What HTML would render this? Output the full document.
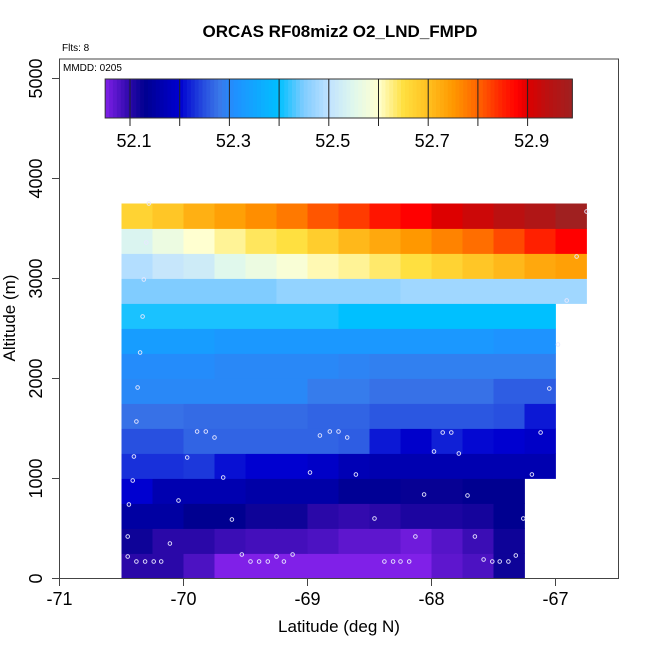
<!DOCTYPE html>
<html><head><meta charset="utf-8"><style>
body{margin:0;background:#fff;}
svg{display:block;font-family:"Liberation Sans",sans-serif;}
</style></head><body>
<svg id="chart" width="650" height="650" viewBox="0 0 650 650" xmlns="http://www.w3.org/2000/svg">
<rect width="650" height="650" fill="#fff"/>
<g id="cells"></g>
<g id="pts"></g>
<rect x="59.5" y="59" width="559" height="519.5" fill="none" stroke="#444" stroke-width="1"/>
<g id="cbar"></g>
<g id="axes"></g>
<text x="340" y="37" text-anchor="middle" font-size="17" font-weight="bold">ORCAS RF08miz2 O2_LND_FMPD</text>
<text x="62" y="51" font-size="10">Flts: 8</text>
<text x="63" y="71" font-size="10">MMDD: 0205</text>
<text x="339" y="632" text-anchor="middle" font-size="17">Latitude (deg N)</text>
<text transform="translate(15,318) rotate(-90)" text-anchor="middle" font-size="17">Altitude (m)</text>
</svg>
<script>
const lonStart = -70.5, lonStep = 0.25;
const altStart = 0, altStep = 250;
const row0 = [52.10,52.10,52.08,52.05,52.05,52.05,52.05,52.05,52.05,52.05,52.07,52.08,52.12];
const row250 = [52.12,52.10,52.10,52.09,52.085,52.085,52.08,52.07,52.07,52.06,52.075,52.09,52.12];
const row500 = [52.15,52.15,52.13,52.13,52.12,52.12,52.10,52.095,52.10,52.11,52.11,52.115,52.13];
const row750 = [52.20,52.165,52.165,52.165,52.155,52.155,52.155,52.135,52.135,52.125,52.125,52.13,52.13];
const row1000 = [52.23,52.23,52.235,52.21,52.20,52.20,52.19,52.17,52.165,52.165,52.165,52.165,52.165,52.165];
const row1250 = [52.25,52.25,52.265,52.265,52.265,52.265,52.265,52.26,52.215,52.195,52.22,52.205,52.20,52.19];
const row1500 = [52.275,52.275,52.27,52.27,52.27,52.27,52.265,52.265,52.255,52.255,52.255,52.255,52.25,52.215];
const row1750 = [52.30,52.30,52.30,52.30,52.30,52.30,52.285,52.285,52.275,52.275,52.275,52.275,52.26,52.26];
const row2000 = [52.305,52.305,52.305,52.30,52.30,52.30,52.30,52.295,52.29,52.29,52.29,52.29,52.29,52.29];
const row2250 = [52.335,52.335,52.335,52.325,52.325,52.325,52.325,52.325,52.325,52.325,52.325,52.325,52.315,52.315];
const row2500 = [52.41,52.41,52.41,52.41,52.41,52.41,52.41,52.40,52.40,52.40,52.40,52.40,52.40,52.40];
const row2750 = [52.45,52.45,52.45,52.45,52.45,52.465,52.465,52.465,52.465,52.475,52.475,52.475,52.475,52.475,52.475];
const row3000 = [52.49,52.51,52.52,52.55,52.57,52.59,52.61,52.62,52.635,52.65,52.67,52.69,52.71,52.73,52.74];
const row3250 = [52.54,52.57,52.60,52.62,52.64,52.65,52.68,52.71,52.73,52.75,52.77,52.79,52.82,52.85,52.88];
const row3500 = [52.67,52.69,52.72,52.74,52.76,52.78,52.81,52.83,52.86,52.88,52.90,52.92,52.94,52.96,52.99];
const rows = [row0,row250,row500,row750,row1000,row1250,row1500,row1750,row2000,row2250,row2500,row2750,row3000,row3250,row3500];
const xTicks = [-71,-70,-69,-68,-67];
const yTicks = [0,1000,2000,3000,4000,5000];
const cbTicks = [52.1,52.2,52.3,52.4,52.5,52.6,52.7,52.8,52.9];
const cbLabels = [52.1,52.3,52.5,52.7,52.9];
const ptLon = [-70.28,-70.30,-70.32,-70.33,-70.35,-70.37,-70.38,-70.40,-70.41,-70.44,-70.45,-70.45,-70.38,-70.31,-70.24,-70.18,-70.11,-70.04,-69.97,-69.89,-69.82,-69.75,-69.68,-69.61,-69.53,-69.46,-69.39,-69.32,-69.25,-69.19,-69.12,-68.98,-68.90,-68.82,-68.75,-68.68,-68.61,-68.46,-68.38,-68.31,-68.25,-68.18,-68.13,-68.06,-67.98,-67.91,-67.84,-67.78,-67.71,-67.65,-67.58,-67.51,-67.45,-67.38,-67.32,-67.26,-67.19,-67.12,-67.05,-66.98,-66.91,-66.83,-66.75];
const ptAlt = [3750,3360,2990,2620,2260,1910,1570,1220,980,740,420,220,170,170,170,170,350,780,1210,1470,1470,1410,1010,590,240,170,170,170,220,170,240,1060,1430,1470,1470,1410,1040,600,170,170,170,170,420,840,1270,1460,1460,1250,830,420,190,170,170,170,230,600,1040,1460,1900,2340,2780,3220,3670];

const NS = 'http://www.w3.org/2000/svg';
const X = lon => 59.5 + (lon + 71) * 124;
const Y = alt => 578.5 - alt * 0.1;
const stops = [[52.05,'#8020e8'],[52.10,'#2a08a8'],[52.13,'#000090'],[52.20,'#0000d0'],[52.25,'#2850e0'],[52.28,'#3a78e8'],[52.31,'#2090ff'],[52.40,'#00c0ff'],[52.45,'#80ccff'],[52.50,'#c0e2ff'],[52.55,'#e0f8ec'],[52.60,'#ffffd0'],[52.65,'#ffe040'],[52.70,'#ffc020'],[52.75,'#ff9800'],[52.80,'#ff6400'],[52.85,'#ff2000'],[52.88,'#ff0000'],[52.90,'#dd0000'],[52.94,'#bb1010'],[52.99,'#a02020']];
function hex(c){return [1,3,5].map(i=>parseInt(c.substr(i,2),16));}
function color(v){
  if(v<=stops[0][0]) return stops[0][1];
  for(let i=1;i<stops.length;i++){
    if(v<=stops[i][0]){
      const t=(v-stops[i-1][0])/(stops[i][0]-stops[i-1][0]);
      const a=hex(stops[i-1][1]), b=hex(stops[i][1]);
      return 'rgb('+a.map((x,k)=>Math.round(x+(b[k]-x)*t)).join(',')+')';
    }
  }
  return stops[stops.length-1][1];
}
function mk(tag, attrs, parent){const e=document.createElementNS(NS,tag);for(const k in attrs)e.setAttribute(k,attrs[k]);parent.appendChild(e);return e;}

const cells=document.getElementById('cells');
rows.forEach((r,ri)=>{
  const a0=altStart+ri*altStep;
  r.forEach((v,ci)=>{
    const l0=lonStart+ci*lonStep;
    const x0=X(l0), x1=X(l0+lonStep), y0=Y(a0+altStep), y1=Y(a0);
    const e=mk('rect',{x:x0.toFixed(2),y:y0.toFixed(2),width:(x1-x0+0.4).toFixed(2),height:(y1-y0+0.4).toFixed(2),fill:color(v)},cells);
    
    
  });
});
const pts=document.getElementById('pts');
ptLon.forEach((lo,i)=>{
  const e=mk('circle',{cx:X(lo).toFixed(1),cy:Y(ptAlt[i]).toFixed(1),r:1.8,fill:'none',stroke:'#e8e8ff','stroke-width':0.9},pts);
  
  
});
const axes=document.getElementById('axes');
xTicks.forEach(t=>{
  const x=X(t);
  mk('line',{x1:x,x2:x,y1:578.5,y2:586,stroke:'#444'},axes);
  const e=mk('text',{x:x,y:605,'text-anchor':'middle','font-size':18},axes);
  e.textContent=t;
  
  
});
yTicks.forEach(t=>{
  const y=Y(t);
  mk('line',{x1:52,x2:59.5,y1:y,y2:y,stroke:'#444'},axes);
  const e=mk('text',{transform:'translate(42,'+y+') rotate(-90)','text-anchor':'middle','font-size':18},axes);
  e.textContent=t;
  
  
});
const cb=document.getElementById('cbar');
const CX = v => 130 + (v - 52.1) * 497;
const cbMin=52.05, cbMax=52.99, n=120;
for(let i=0;i<n;i++){
  const v0=cbMin+(cbMax-cbMin)*i/n, v1=cbMin+(cbMax-cbMin)*(i+1)/n;
  mk('rect',{x:CX(v0).toFixed(2),y:79,width:(CX(v1)-CX(v0)+0.5).toFixed(2),height:39,fill:color((v0+v1)/2)},cb);
}
mk('rect',{x:CX(cbMin),y:79,width:CX(cbMax)-CX(cbMin),height:39,fill:'none',stroke:'#333'},cb);
cbTicks.forEach(t=>{
  const x=CX(t);
  mk('line',{x1:x,x2:x,y1:79,y2:126,stroke:'#222'},cb);
});
cbLabels.forEach(t=>{
  const e=mk('text',{x:CX(t)+4,y:147,'text-anchor':'middle','font-size':18},cb);
  e.textContent=t.toFixed(1);
  
  
});
</script>
</body></html>
